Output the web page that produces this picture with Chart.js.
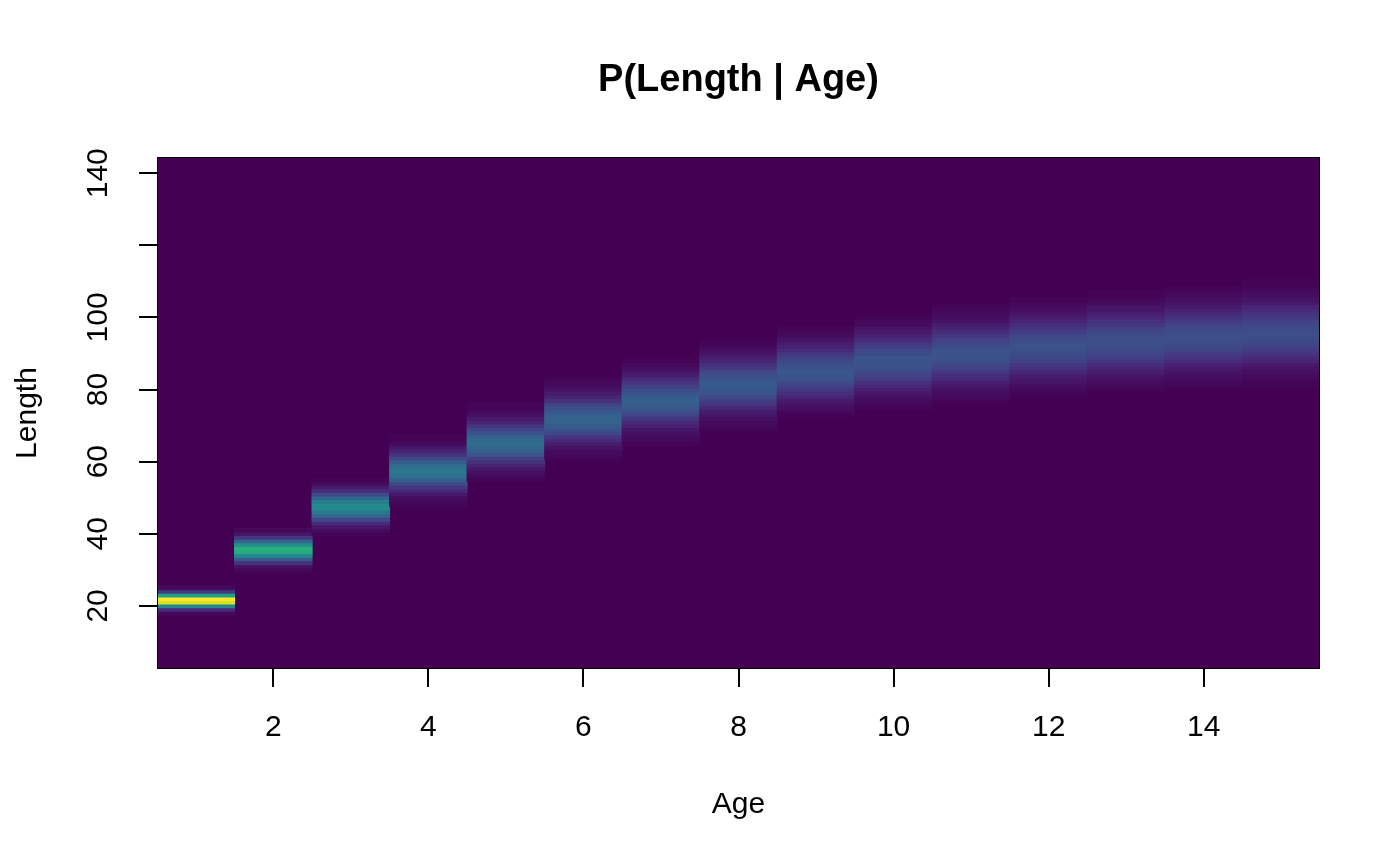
<!DOCTYPE html>
<html>
<head>
<meta charset="utf-8">
<script src="https://cdn.jsdelivr.net/npm/chart.js@4.4.0/dist/chart.umd.min.js"></script>
<style>
  html, body { margin: 0; padding: 0; background: #ffffff; }
  #wrap { width: 1400px; height: 866px; }
</style>
</head>
<body>
<div id="wrap"><canvas id="c" width="1400" height="866"></canvas></div>
<script>
// ---- data ----
const ages = [1, 2, 3, 4, 5, 6, 7, 8, 9, 10, 11, 12, 13, 14, 15];
const lengthRange = [2.5, 144.5];            // extent of the length bins
const xTickValues = [2, 4, 6, 8, 10, 12, 14];
const yTickValues = [20, 40, 60, 80, 100, 120, 140];
const yTickLabels = ['20', '40', '60', '80', '100', '', '140'];

// first length bin of the visible band for each age
const bandStart = [18, 30, 40, 48, 55, 61, 65, 69, 73, 75, 77, 79, 80, 81, 81];

// relative probability of each length bin (1-unit bins), per age
const pAge1  = [0.02, 0.12, 0.46, 0.94, 1.00, 0.56, 0.17, 0.03];
const pAge2  = [0.02, 0.05, 0.14, 0.29, 0.47, 0.61, 0.63, 0.51, 0.32, 0.16, 0.06, 0.02];
const pAge3  = [0.01, 0.03, 0.06, 0.12, 0.21, 0.31, 0.40, 0.47, 0.47, 0.42, 0.33, 0.22, 0.13, 0.07, 0.03, 0.01];
const pAge4  = [0.01, 0.02, 0.03, 0.06, 0.11, 0.17, 0.23, 0.30, 0.36, 0.39, 0.39, 0.35, 0.29, 0.22, 0.15, 0.10, 0.06, 0.03, 0.01, 0.01];
const pAge5  = [0.01, 0.02, 0.04, 0.06, 0.10, 0.14, 0.19, 0.25, 0.30, 0.33, 0.35, 0.34, 0.31, 0.26, 0.20, 0.15, 0.10, 0.07, 0.04, 0.02, 0.01, 0.01];
const pAge6  = [0.01, 0.02, 0.03, 0.05, 0.08, 0.12, 0.16, 0.21, 0.25, 0.29, 0.31, 0.32, 0.30, 0.27, 0.24, 0.19, 0.14, 0.10, 0.07, 0.05, 0.03, 0.02, 0.01];
const pAge7  = [0.01, 0.02, 0.03, 0.04, 0.06, 0.09, 0.12, 0.16, 0.20, 0.24, 0.27, 0.29, 0.30, 0.29, 0.26, 0.23, 0.19, 0.15, 0.12, 0.08, 0.06, 0.04, 0.02, 0.01];
const pAge8  = [0.01, 0.02, 0.03, 0.04, 0.06, 0.08, 0.11, 0.15, 0.18, 0.22, 0.25, 0.27, 0.28, 0.28, 0.26, 0.24, 0.21, 0.17, 0.14, 0.10, 0.08, 0.05, 0.04, 0.02, 0.01];
const pAge9  = [0.01, 0.02, 0.04, 0.05, 0.07, 0.10, 0.13, 0.16, 0.19, 0.22, 0.25, 0.26, 0.27, 0.26, 0.24, 0.22, 0.19, 0.16, 0.12, 0.09, 0.07, 0.05, 0.03, 0.02, 0.01];
const pAge10 = [0.01, 0.02, 0.03, 0.04, 0.06, 0.08, 0.11, 0.14, 0.17, 0.20, 0.22, 0.24, 0.26, 0.26, 0.25, 0.23, 0.21, 0.18, 0.15, 0.12, 0.09, 0.07, 0.05, 0.03, 0.02, 0.01];
const pAge11 = [0.01, 0.02, 0.03, 0.04, 0.06, 0.08, 0.11, 0.13, 0.16, 0.19, 0.22, 0.24, 0.25, 0.25, 0.25, 0.23, 0.21, 0.19, 0.16, 0.13, 0.10, 0.08, 0.05, 0.04, 0.03, 0.02, 0.01];
const pAge12 = [0.01, 0.02, 0.03, 0.05, 0.06, 0.08, 0.11, 0.14, 0.16, 0.19, 0.22, 0.23, 0.24, 0.25, 0.24, 0.23, 0.21, 0.18, 0.15, 0.13, 0.10, 0.08, 0.06, 0.04, 0.03, 0.02, 0.01];
const pAge13 = [0.01, 0.02, 0.03, 0.04, 0.06, 0.08, 0.10, 0.13, 0.15, 0.18, 0.20, 0.22, 0.24, 0.24, 0.24, 0.23, 0.21, 0.19, 0.16, 0.14, 0.11, 0.09, 0.06, 0.05, 0.03, 0.02, 0.01, 0.01];
const pAge14 = [0.01, 0.02, 0.03, 0.04, 0.05, 0.07, 0.09, 0.12, 0.15, 0.17, 0.20, 0.22, 0.23, 0.24, 0.24, 0.23, 0.22, 0.20, 0.17, 0.15, 0.12, 0.09, 0.07, 0.05, 0.04, 0.03, 0.02, 0.01];
const pAge15 = [0.01, 0.01, 0.02, 0.03, 0.04, 0.05, 0.07, 0.10, 0.12, 0.15, 0.17, 0.19, 0.21, 0.23, 0.24, 0.24, 0.23, 0.21, 0.19, 0.17, 0.15, 0.12, 0.10, 0.07, 0.05, 0.04, 0.03, 0.02, 0.01, 0.01];

const bandValues = [pAge1, pAge2, pAge3, pAge4, pAge5, pAge6, pAge7, pAge8,
                    pAge9, pAge10, pAge11, pAge12, pAge13, pAge14, pAge15];

// ---- viridis colour map ----
const viridisStops = ['#440154', '#482475', '#414487', '#355f8d', '#2a788e', '#21918c',
                      '#22a884', '#44bf70', '#7ad151', '#bddf26', '#fde725'];
function hexToRgb(h) {
  return [parseInt(h.slice(1, 3), 16), parseInt(h.slice(3, 5), 16), parseInt(h.slice(5, 7), 16)];
}
function viridis(t) {
  t = Math.max(0, Math.min(1, t));
  const p = t * (viridisStops.length - 1);
  const i = Math.min(viridisStops.length - 2, Math.floor(p));
  const f = p - i;
  const a = hexToRgb(viridisStops[i]), b = hexToRgb(viridisStops[i + 1]);
  const c = a.map((v, k) => Math.round(v + (b[k] - v) * f));
  return 'rgb(' + c[0] + ',' + c[1] + ',' + c[2] + ')';
}

// ---- build cells ----
const cells = [];
const cellColors = [];
ages.forEach((age) => {
  cells.push({ x: age, y: [lengthRange[0], lengthRange[1]] });
  cellColors.push(viridis(0));
});
ages.forEach((age, i) => {
  bandValues[i].forEach((v, j) => {
    const len = bandStart[i] + j;
    cells.push({ x: age, y: [len - 0.5, len + 0.5] });
    cellColors.push(viridis(v));
  });
});

const FONT = '"Liberation Sans", Arial, Helvetica, sans-serif';

const boxPlugin = {
  id: 'plotBox',
  afterDatasetsDraw(chart) {
    const { ctx, chartArea: a } = chart;
    ctx.save();
    ctx.strokeStyle = '#000000';
    ctx.lineWidth = 1;
    ctx.strokeRect(a.left + 0.5, a.top + 0.5, a.right - a.left - 1, a.bottom - a.top - 1);
    ctx.restore();
  }
};

new Chart(document.getElementById('c'), {
  type: 'bar',
  data: {
    datasets: [{
      data: cells,
      backgroundColor: cellColors,
      borderWidth: 0,
      inflateAmount: 0.5,
      barPercentage: 1,
      categoryPercentage: 1
    }]
  },
  options: {
    responsive: false,
    devicePixelRatio: 1,
    animation: false,
    layout: { padding: { left: 77, right: 0, top: 0, bottom: 0 } },
    plugins: {
      legend: { display: false },
      tooltip: { enabled: false },
      title: {
        display: true,
        text: 'P(Length | Age)',
        color: '#000000',
        font: { family: FONT, size: 38, weight: 'bold', lineHeight: 1.2 },
        padding: { top: 58.2, bottom: 53.2 }
      }
    },
    scales: {
      x: {
        type: 'linear',
        min: 0.5,
        max: 15.5,
        offset: false,
        afterBuildTicks: (s) => { s.ticks = xTickValues.map(v => ({ value: v })); },
        afterFit: (s) => { s.height = 197; },
        ticks: {
          color: '#000000',
          font: { family: FONT, size: 30, lineHeight: 1.2 },
          padding: 23,
          maxRotation: 0,
          autoSkip: false,
          callback: (v) => String(v)
        },
        grid: { display: true, drawOnChartArea: false, drawTicks: true, tickLength: 18, color: '#000000', lineWidth: 2, offset: false },
        border: { display: false },
        title: {
          display: true,
          text: 'Age',
          color: '#000000',
          font: { family: FONT, size: 30, lineHeight: 1.2 },
          padding: { top: 0, bottom: 43 }
        }
      },
      y: {
        type: 'linear',
        min: lengthRange[0],
        max: lengthRange[1],
        beginAtZero: false,
        afterBuildTicks: (s) => { s.ticks = yTickValues.map(v => ({ value: v })); },
        afterFit: (s) => { s.width = 80; },
        ticks: {
          color: '#000000',
          font: { family: FONT, size: 30, lineHeight: 1.2 },
          padding: 15,
          minRotation: 90,
          maxRotation: 90,
          crossAlign: 'center',
          autoSkip: false,
          callback: (v) => { const k = yTickValues.indexOf(v); return k >= 0 ? yTickLabels[k] : ''; }
        },
        grid: { display: true, drawOnChartArea: false, drawTicks: true, tickLength: 18, color: '#000000', lineWidth: 2 },
        border: { display: false },
        title: {
          display: true,
          text: 'Length',
          color: '#000000',
          font: { family: FONT, size: 30, lineHeight: 1.2 },
          padding: { top: -67, bottom: 0 }
        }
      },
      yRight: {
        type: 'linear',
        position: 'right',
        display: true,
        min: lengthRange[0],
        max: lengthRange[1],
        afterFit: (s) => { s.width = 80; },
        ticks: { display: false },
        grid: { display: false, drawTicks: false },
        border: { display: false },
        title: { display: false }
      }
    }
  },
  plugins: [boxPlugin]
});
</script>
</body>
</html>
